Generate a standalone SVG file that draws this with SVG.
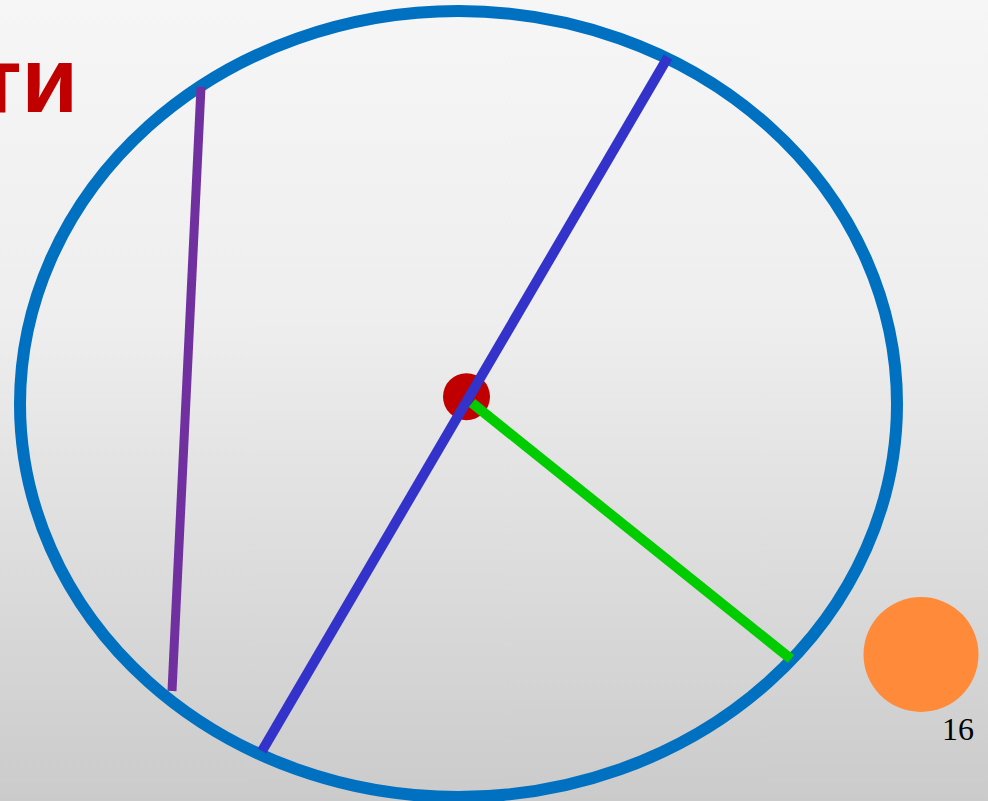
<svg xmlns="http://www.w3.org/2000/svg" width="988" height="801" viewBox="0 0 988 801">
<defs>
<linearGradient id="bg" x1="0" y1="0" x2="0" y2="1">
<stop offset="0" stop-color="#f6f6f6"/>
<stop offset="0.4" stop-color="#eeeeee"/>
<stop offset="1" stop-color="#cbcbcb"/>
</linearGradient>
<style>
.seg{stroke-linecap:butt;fill:none}
</style>
</defs>
<rect x="0" y="0" width="988" height="801" fill="url(#bg)"/>
<text x="78" y="112" text-anchor="end" font-family="Liberation Sans, Arial, sans-serif" font-weight="bold" font-size="92" fill="#c00000">ти</text>
<g id="circle">
<ellipse cx="458.5" cy="404" rx="438.5" ry="393" fill="none" stroke="#0070c0" stroke-width="12"/>
</g>
<g id="center">
<circle cx="466.5" cy="396.7" r="23.5" fill="#c00000"/>
</g>
<g id="connectors">
<line id="chord" class="seg" x1="201" y1="87" x2="172" y2="691" stroke="#7030a0" stroke-width="9"/>
<line id="diameter" class="seg" x1="668" y1="57" x2="262" y2="751" stroke="#3333cc" stroke-width="10"/>
<line id="radius" class="seg" x1="472" y1="403" x2="791" y2="659" stroke="#00cc00" stroke-width="10"/>
</g>
<g id="orange">
<circle cx="921" cy="654.5" r="57.5" fill="#ff8b3a"/>
</g>
<text x="958" y="740" text-anchor="middle" font-family="Liberation Serif, Times New Roman, serif" font-size="32" fill="#000">16</text>
</svg>
